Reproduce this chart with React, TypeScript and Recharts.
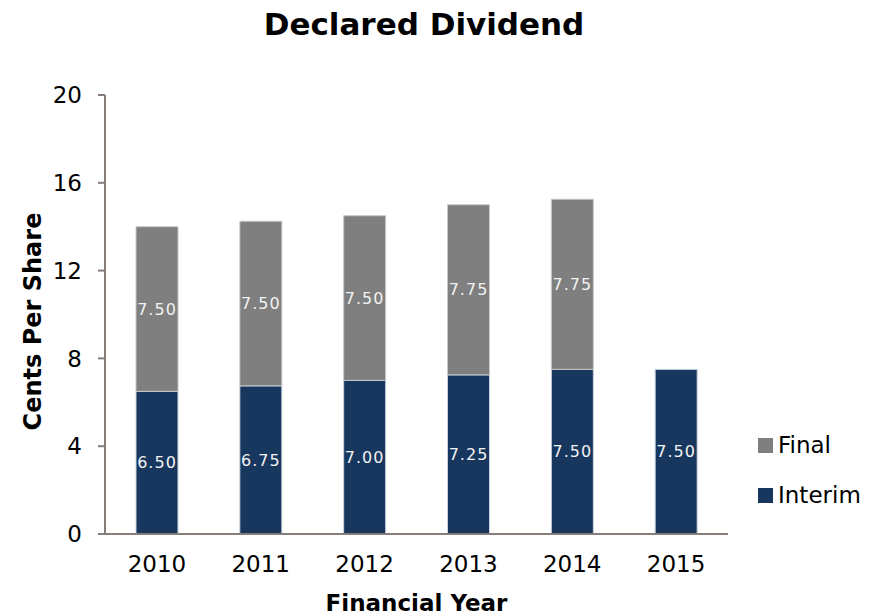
import { BarChart, Bar, XAxis, YAxis, LabelList, Label } from "recharts";

const years = ["2010", "2011", "2012", "2013", "2014", "2015"];
const interim = [6.5, 6.75, 7.0, 7.25, 7.5, 7.5];
const final = [7.5, 7.5, 7.5, 7.75, 7.75, null];
const yTicks = [0, 4, 8, 12, 16, 20];

const data = years.map((year, i) => ({ year, interim: interim[i], final: final[i] }));

const FONT = "DejaVu Sans";
const AXIS = "#877d78";
const INTERIM = "#17375e";
const FINAL = "#7f7f7f";

const legendItems = [
  { name: "Final", color: FINAL },
  { name: "Interim", color: INTERIM },
];

// legend drawn outside the chart so it doesn't eat into the plot width
function LegendBox() {
  return (
    <div style={{ position: "absolute", left: 758, top: 420, fontFamily: FONT, fontSize: 23, color: "#000" }}>
      {legendItems.map((it) => (
        <div key={it.name} style={{ display: "flex", alignItems: "center", height: 50 }}>
          <span style={{ width: 15, height: 15, background: it.color, marginRight: 5, display: "inline-block" }} />
          <span>{it.name}</span>
        </div>
      ))}
    </div>
  );
}

const fmt = (v: any) => (v == null ? "" : Number(v).toFixed(2));

export default function App() {
  return (
    <div style={{ position: "absolute", left: 0, top: 0, width: 879, height: 616, background: "#fff" }}>
      <svg width={879} height={50} style={{ position: "absolute", left: 0, top: 0 }}>
        <text x={424} y={35} textAnchor="middle" fontFamily={FONT} fontWeight="bold" fontSize={31} fill="#000">
          Declared Dividend
        </text>
      </svg>
      <BarChart
        width={879}
        height={616}
        data={data}
        margin={{ top: 95, right: 151, bottom: 0, left: 0 }}
        style={{ fontFamily: FONT }}
      >
        <XAxis
          dataKey="year"
          height={82}
          tickLine={false}
          tickSize={0}
          tickMargin={22}
          axisLine={{ stroke: AXIS, strokeWidth: 2 }}
          tick={{ fill: "#000", fontSize: 23 }}
        >
          <Label
            content={({ viewBox }: any) => (
              <text
                x={viewBox.x + viewBox.width / 2}
                y={viewBox.y + 77}
                textAnchor="middle"
                fontFamily={FONT}
                fontWeight="bold"
                fontSize={23}
                fill="#000"
              >
                Financial Year
              </text>
            )}
          />
        </XAxis>
        <YAxis
          width={105}
          domain={[0, 20]}
          ticks={yTicks}
          tickSize={7}
          tickMargin={16}
          axisLine={{ stroke: AXIS, strokeWidth: 2 }}
          tickLine={{ stroke: AXIS, strokeWidth: 2 }}
          tick={{ fill: "#000", fontSize: 23 }}
        >
          <Label
            content={({ viewBox }: any) => {
              const cx = viewBox.x + 33;
              const cy = viewBox.y + viewBox.height / 2 + 7;
              return (
                <text
                  x={cx}
                  y={cy}
                  transform={`rotate(-90 ${cx} ${cy})`}
                  textAnchor="middle"
                  dominantBaseline="central"
                  fontFamily={FONT}
                  fontWeight="bold"
                  fontSize={24}
                  fill="#000"
                >
                  Cents Per Share
                </text>
              );
            }}
          />
        </YAxis>
        <Bar dataKey="interim" name="Interim" stackId="a" fill={INTERIM} stroke="#c9d2dc" strokeWidth={1} barSize={42} isAnimationActive={false}>
          <LabelList dataKey="interim" position="center" formatter={fmt} fill="#f2f2f2" fontSize={16} letterSpacing={1} />
        </Bar>
        <Bar dataKey="final" name="Final" stackId="a" fill={FINAL} stroke="#c8c8c8" strokeWidth={1} barSize={42} isAnimationActive={false}>
          <LabelList dataKey="final" position="center" formatter={fmt} fill="#f2f2f2" fontSize={16} letterSpacing={1} />
        </Bar>
      </BarChart>
      <LegendBox />
    </div>
  );
}
